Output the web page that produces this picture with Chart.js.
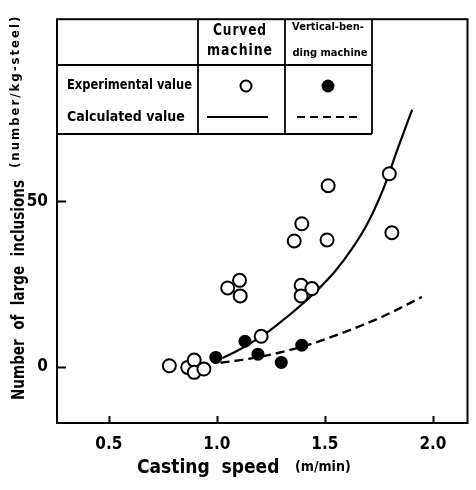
<!DOCTYPE html>
<html>
<head>
<meta charset="utf-8">
<script src="https://cdn.jsdelivr.net/npm/chart.js@4.4.1/dist/chart.umd.min.js"></script>
<style>
html,body{margin:0;padding:0;background:#fff;}
#wrap{width:476px;height:490px;}
</style>
</head>
<body>
<div id="wrap"><canvas id="c" width="476" height="490"></canvas></div>
<script>
// ---- data ----
const curvedSpeed = [0.78, 0.865, 0.895, 0.895, 0.94, 1.05, 1.105, 1.108, 1.205, 1.39, 1.44, 1.39, 1.393, 1.358, 1.51, 1.515, 1.798, 1.81];
const curvedCount = [0.3, -0.2, 2.0, -1.7, -0.7, 23.8, 26.1, 21.4, 9.2, 24.6, 23.6, 21.4, 43.2, 38.0, 38.3, 54.7, 58.3, 40.5];
const vbSpeed = [0.995, 1.13, 1.19, 1.298, 1.393];
const vbCount = [2.8, 7.7, 3.8, 1.3, 6.5];
const curvedCalcSpeed = [1.025, 1.116, 1.23, 1.32, 1.396, 1.472, 1.548, 1.624, 1.699, 1.775, 1.835, 1.904];
const curvedCalcCount = [2.6, 5.6, 10.2, 14.8, 19.0, 23.6, 28.9, 35.5, 43.5, 54.5, 65.5, 77.7];
const vbCalcSpeed = [1.017, 1.108, 1.215, 1.335, 1.442, 1.624, 1.775, 1.949];
const vbCalcCount = [1.2, 2.0, 3.2, 5.0, 7.0, 11.3, 15.4, 21.1];
const xTickValues = [0.5, 1.0, 1.5, 2.0];
const yTickValues = [0, 50];
const xTitle = 'Casting  speed';
const xUnit = '(m/min)';
const yTitle = 'Number  of  large  inclusions';
const yUnit = '(number/kg-steel)';
const colHeaders = [['Curved', 'machine'], ['Vertical-ben-', 'ding machine']];
const rowLabels = ['Experimental value', 'Calculated value'];

const pts = (xs, ys) => xs.map((x, i) => ({x: x, y: ys[i]}));

const FONT = '"DejaVu Sans Condensed", "Liberation Sans Narrow", "DejaVu Sans", sans-serif';

const decor = {
  id: 'decor',
  afterDraw(chart) {
    const ctx = chart.ctx;
    const a = chart.chartArea;
    const xs = chart.scales.x, ys = chart.scales.y;
    ctx.save();
    ctx.strokeStyle = '#000';
    ctx.fillStyle = '#000';
    // frame
    ctx.lineWidth = 2;
    ctx.strokeRect(a.left, a.top, a.right - a.left, a.bottom - a.top);
    // inward ticks
    ctx.lineWidth = 2;
    xTickValues.forEach(v => {
      const px = Math.round(xs.getPixelForValue(v)) + 0.5;
      ctx.beginPath(); ctx.moveTo(px, a.bottom); ctx.lineTo(px, a.bottom - 7); ctx.stroke();
    });
    yTickValues.forEach(v => {
      const py = Math.round(ys.getPixelForValue(v)) + 0.5;
      ctx.beginPath(); ctx.moveTo(a.left, py); ctx.lineTo(a.left + 9, py); ctx.stroke();
    });
    // x title
    ctx.textBaseline = 'middle';
    ctx.textAlign = 'left';
    ctx.font = 'bold 19px ' + FONT;
    ctx.fillText(xTitle, 137, 468, 152);
    ctx.font = 'bold 14px ' + FONT;
    ctx.fillText(xUnit, 295, 467, 63);
    // y title (rotated)
    ctx.save();
    ctx.translate(20, 400);
    ctx.rotate(-Math.PI / 2);
    ctx.font = 'bold 17px ' + FONT;
    ctx.fillText(yTitle, 0, 0, 220);
    ctx.font = 'bold 13px ' + FONT;
    ctx.letterSpacing = '2px';
    ctx.fillText(yUnit, 232, -4, 158);
    ctx.letterSpacing = '0px';
    ctx.restore();
    // legend table
    const L = a.left, T = a.top, c1 = 198, c2 = 285, R = 372, mid = 65, B = 134;
    ctx.lineWidth = 1.8;
    ctx.beginPath();
    ctx.moveTo(L, mid); ctx.lineTo(R, mid);
    ctx.moveTo(L, B); ctx.lineTo(R, B);
    ctx.moveTo(c1, T); ctx.lineTo(c1, B);
    ctx.moveTo(c2, T); ctx.lineTo(c2, B);
    ctx.moveTo(R, T); ctx.lineTo(R, B);
    ctx.stroke();
    ctx.textAlign = 'center';
    ctx.font = 'bold 15px ' + FONT;
    ctx.letterSpacing = '1px';
    ctx.fillText(colHeaders[0][0], 240, 31, 54);
    ctx.fillText(colHeaders[0][1], 240, 51, 66);
    ctx.letterSpacing = '0px';
    ctx.font = 'bold 11px ' + FONT;
    ctx.fillText(colHeaders[1][0], 328, 27, 78);
    ctx.fillText(colHeaders[1][1], 330, 53, 76);
    ctx.textAlign = 'left';
    ctx.font = 'bold 14px ' + FONT;
    ctx.fillText(rowLabels[0], 67, 85, 125);
    ctx.fillText(rowLabels[1], 67, 117, 125);
    // legend symbols
    ctx.lineWidth = 2;
    ctx.fillStyle = '#fff';
    ctx.beginPath(); ctx.arc(246, 86, 5.5, 0, Math.PI * 2); ctx.fill(); ctx.stroke();
    ctx.fillStyle = '#000';
    ctx.beginPath(); ctx.arc(328, 86, 6.5, 0, Math.PI * 2); ctx.fill();
    ctx.lineWidth = 2.2;
    ctx.beginPath(); ctx.moveTo(207, 117); ctx.lineTo(268, 117); ctx.stroke();
    ctx.setLineDash([8, 5]);
    ctx.beginPath(); ctx.moveTo(297, 117); ctx.lineTo(358, 117); ctx.stroke();
    ctx.restore();
  }
};

new Chart(document.getElementById('c'), {
  type: 'scatter',
  data: {
    datasets: [
      {label: 'Curved experimental', data: pts(curvedSpeed, curvedCount), order: 0,
       pointRadius: 6.5, pointBorderWidth: 2, pointBackgroundColor: '#fff', pointBorderColor: '#000', showLine: false},
      {label: 'Vertical-bending experimental', data: pts(vbSpeed, vbCount), order: 0,
       pointRadius: 6.5, pointBorderWidth: 0, pointBackgroundColor: '#000', pointBorderColor: '#000', showLine: false},
      {label: 'Curved calculated', data: pts(curvedCalcSpeed, curvedCalcCount), order: 2,
       showLine: true, pointRadius: 0, borderColor: '#000', borderWidth: 2.2, cubicInterpolationMode: 'monotone', fill: false},
      {label: 'Vertical-bending calculated', data: pts(vbCalcSpeed, vbCalcCount), order: 2,
       showLine: true, pointRadius: 0, borderColor: '#000', borderWidth: 2.4, borderDash: [9, 5], cubicInterpolationMode: 'monotone', fill: false}
    ]
  },
  options: {
    responsive: false,
    animation: false,
    layout: {padding: {top: 14, right: 2, left: 0, bottom: 0}},
    plugins: {legend: {display: false}, tooltip: {enabled: false}, title: {display: false}},
    scales: {
      x: {
        type: 'linear', min: 0.26, max: 2.16,
        grid: {display: false, drawTicks: false},
        border: {display: false},
        afterBuildTicks: s => { s.ticks = xTickValues.map(v => ({value: v})); },
        afterFit: s => { s.height = 67; },
        ticks: {color: '#000', padding: 11, font: {family: FONT, size: 17, weight: 'bold'},
                callback: v => Number(v).toFixed(1)}
      },
      y: {
        type: 'linear', min: -17, max: 105,
        grid: {display: false, drawTicks: false},
        border: {display: false},
        afterBuildTicks: s => { s.ticks = yTickValues.map(v => ({value: v})); },
        afterFit: s => { s.width = 57; },
        ticks: {color: '#000', padding: 9, font: {family: FONT, size: 17, weight: 'bold'},
                callback: v => String(v)}
      }
    }
  },
  plugins: [decor]
});
</script>
</body>
</html>
